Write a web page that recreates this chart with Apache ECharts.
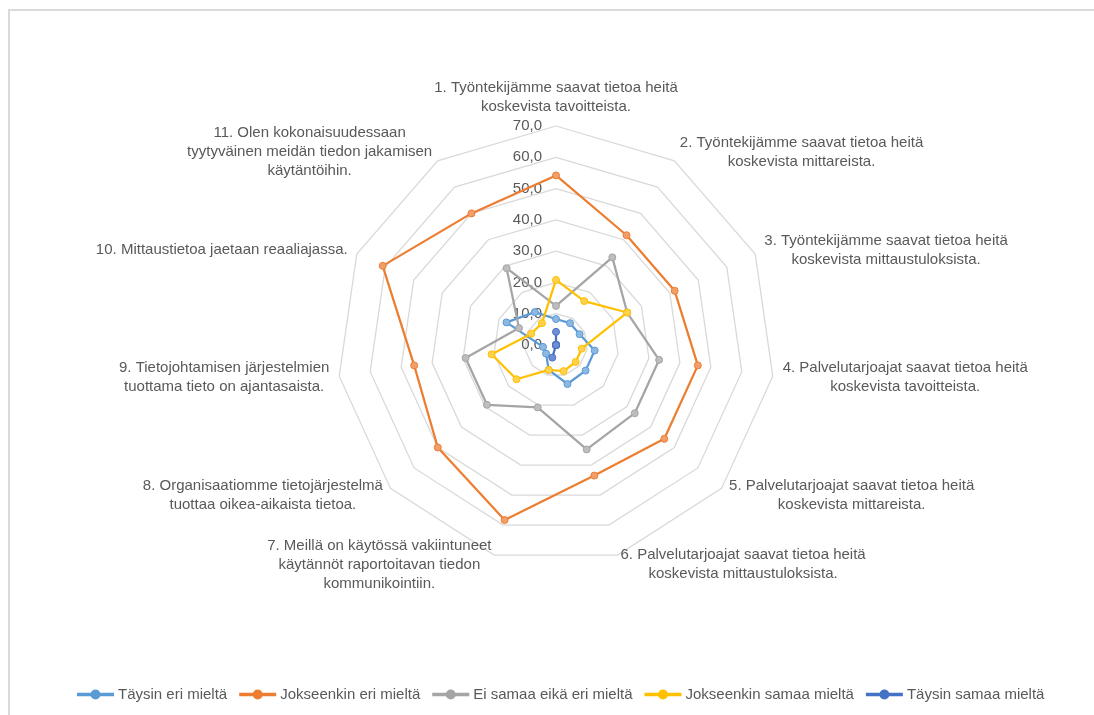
<!DOCTYPE html>
<html lang="fi">
<head>
<meta charset="UTF-8">
<title>tiedon jakaminen</title>
<script src="https://cdn.jsdelivr.net/npm/echarts@6/dist/echarts.min.js"></script>
<style>
html, body { margin: 0; padding: 0; background: #fff; }
#frame { position: absolute; left: 8px; top: 9px; width: 1100px; height: 720px; border: 2px solid #d9d9d9; }
#main { position: absolute; left: 0; top: 0; width: 1094px; height: 715px; }
</style>
</head>
<body>
<div id="frame"></div>
<div id="main"></div>
<script>
var questions = [
    '1. Työntekijämme saavat tietoa heitä\nkoskevista tavoitteista.',
    '2. Työntekijämme saavat tietoa heitä\nkoskevista mittareista.',
    '3. Työntekijämme saavat tietoa heitä\nkoskevista mittaustuloksista.',
    '4. Palvelutarjoajat saavat tietoa heitä\nkoskevista tavoitteista.',
    '5. Palvelutarjoajat saavat tietoa heitä\nkoskevista mittareista.',
    '6. Palvelutarjoajat saavat tietoa heitä\nkoskevista mittaustuloksista.',
    '7. Meillä on käytössä vakiintuneet\nkäytännöt raportoitavan tiedon\nkommunikointiin.',
    '8. Organisaatiomme tietojärjestelmä\ntuottaa oikea-aikaista tietoa.',
    '9. Tietojohtamisen järjestelmien\ntuottama tieto on ajantasaista.',
    '10. Mittaustietoa jaetaan reaaliajassa.',
    '11. Olen kokonaisuudessaan\ntyytyväinen meidän tiedon jakamisen\nkäytäntöihin.'
];

var seriesNames = ['Täysin eri mieltä', 'Jokseenkin eri mieltä', 'Ei samaa eikä eri mieltä', 'Jokseenkin samaa mieltä', 'Täysin samaa mieltä'];
var lineColors = ['#5b9bd5', '#ed7d31', '#a5a5a5', '#ffc000', '#4472c4'];
var markerFills = ['#8db8e2', '#f19f6a', '#bdbdbd', '#ffd24d', '#6f8fd2'];

var taysinEri      = [8.3, 8.3, 8.3, 12.5, 12.5, 13.0, 8.3, 4.2, 4.2, 17.4, 12.5];
var jokseenkinEri  = [54.2, 41.7, 41.7, 45.8, 45.8, 43.5, 58.3, 50.0, 45.8, 60.9, 50.0];
var eiSamaaEikaEri = [12.5, 33.3, 25.0, 33.3, 33.3, 34.8, 20.8, 29.2, 29.2, 13.0, 29.2];
var jokseenkinSamaa = [20.8, 16.7, 25.0, 8.3, 8.3, 8.7, 8.3, 16.7, 20.8, 8.7, 8.3];
var taysinSamaa    = [4.2, 0, 0, 0, 0, 0, 4.2, 0, 0, 0, 0];

var allValues = [taysinEri, jokseenkinEri, eiSamaaEikaEri, jokseenkinSamaa, taysinSamaa];

// echarts lays indicators out counter-clockwise, Excel goes clockwise
var order = [0];
for (var k = questions.length - 1; k > 0; k--) order.push(k);

var font = 'Liberation Sans';
var textColor = '#595959';

var indicators = order.map(function (i, n) {
    var ind = { name: questions[i], min: 0, max: 70 };
    if (n === 0) {
        ind.axisLabel = {
            show: true,
            color: textColor,
            fontSize: 15,
            fontFamily: font,
            margin: 14,
            padding: [5, 0, 0, 0],
            formatter: function (v) { return v.toFixed(1).replace('.', ','); }
        };
    }
    return ind;
});

var legendIcon = 'path://M0,4.3 L35,4.3 L35,5.7 L0,5.7 Z M21.5,5 A4,4 0 1,1 13.5,5 A4,4 0 1,1 21.5,5 Z';

var myChart = echarts.init(document.getElementById('main'));

var option = {
    animation: false,
    legend: {
        left: 72,
        top: 682,
        itemWidth: 35,
        itemHeight: 8,
        itemGap: 12,
        textStyle: { color: textColor, fontSize: 15, fontFamily: font },
        data: seriesNames.map(function (nm, i) {
            return { name: nm, icon: legendIcon, itemStyle: { color: lineColors[i] } };
        })
    },
    radar: {
        center: [556, 345],
        radius: 219,
        startAngle: 90,
        splitNumber: 7,
        shape: 'polygon',
        nameGap: 10,
        axisName: {
            color: textColor,
            fontSize: 15,
            fontFamily: font,
            formatter: function (name) {
                return name.split('\n').map(function (s) { return '{c|' + s + '}'; }).join('\n');
            },
            rich: {
                c: { align: 'center', color: textColor, fontSize: 15, fontFamily: font, lineHeight: 19 }
            }
        },
        splitLine: { lineStyle: { color: '#d9d9d9', width: 1.3 } },
        splitArea: { show: false },
        axisLine: { show: false },
        axisTick: { show: false },
        axisLabel: { show: false },
        indicator: indicators
    },
    series: [{
        type: 'radar',
        symbol: 'circle',
        symbolSize: 7,
        data: allValues.map(function (vals, s) {
            return {
                name: seriesNames[s],
                value: order.map(function (i) { return vals[i]; }),
                lineStyle: { color: lineColors[s], width: 2.25 },
                itemStyle: { color: markerFills[s], borderColor: lineColors[s], borderWidth: 1 }
            };
        })
    }]
};

myChart.setOption(option);
</script>
</body>
</html>
